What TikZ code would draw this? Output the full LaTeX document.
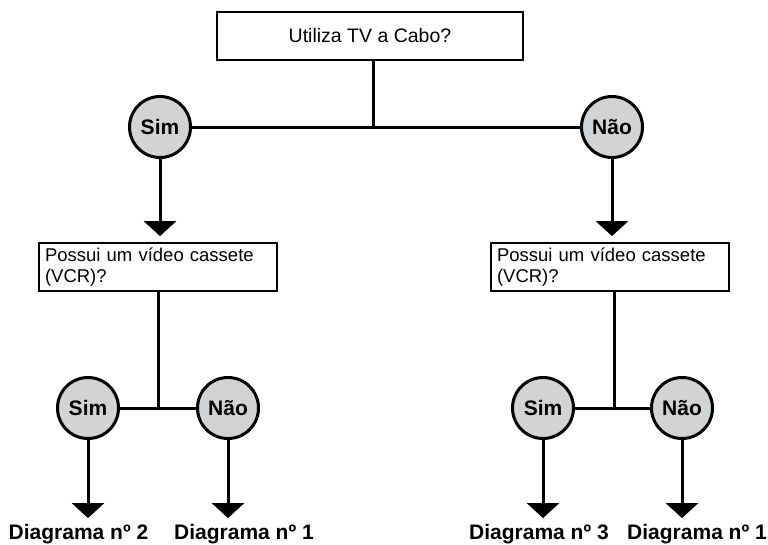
\documentclass[tikz,border=0pt]{standalone}
\usepackage{fontspec}
\setmainfont{Liberation Sans}
\usepackage{xcolor}
\usetikzlibrary{arrows.meta}

\definecolor{circgray}{HTML}{D1D3D4}

\tikzset{
	qbox/.style={draw, line width=1.8pt, inner sep=0pt},
	answer/.style={circle, draw, line width=3pt, fill=circgray, minimum size=61pt, inner sep=0pt, font=\fontsize{21}{22}\selectfont\bfseries},
	link/.style={line width=3pt},
	arr/.style={line width=3pt, -{Triangle[width=32pt, length=15pt]}},
	result/.style={anchor=base, inner sep=0pt, font=\fontsize{21}{22}\selectfont\bfseries}
}

\begin{document}
\begin{tikzpicture}[x=1pt, y=-1pt]
		\useasboundingbox (0,0) rectangle (768,544);
		
		\node[qbox, minimum width=306pt, minimum height=48pt, font=\fontsize{19.5}{22}\selectfont] (cabo) at (370,36) {Utiliza TV a Cabo?};
		
		\node[answer] (sim) at (160,127) {Sim};
		\node[answer] (nao) at (612,127) {Não};
		
		\foreach \n/\x in {vcrA/158, vcrB/610}{
			\node[qbox, minimum height=48pt, text width=226pt, inner xsep=6pt, align=left, font=\fontsize{18.5}{21}\selectfont] (\n) at (\x,267) {Possui um vídeo cassete\\(VCR)?};
		}
		
		\node[answer] (simA) at (88,408) {Sim};
		\node[answer] (naoA) at (228,408) {Não};
		\node[answer] (simB) at (543,408) {Sim};
		\node[answer] (naoB) at (682,408) {Não};
		
		\node[result] (diagA) at (78.5,539.5) {Diagrama nº 2};
		\node[result] (diagB) at (244,539.5) {Diagrama nº 1};
		\node[result] (diagC) at (539,539.5) {Diagrama nº 3};
		\node[result] (diagD) at (697,539.5) {Diagrama nº 1};
		
		% junctions
		\coordinate (j0) at (373,127);
		\coordinate (jA) at (158,408);
		\coordinate (jB) at (614,408);
		
		\draw[link] (cabo.south -| j0) -- (j0);
		\draw[link] (sim) -- (nao);
		\draw[arr, shorten >=6pt] (sim) -- (sim |- vcrA.north);
		\draw[arr, shorten >=6pt] (nao) -- (nao |- vcrB.north);
		
		\draw[link] (vcrA.south -| jA) -- (jA);
		\draw[link] (vcrB.south -| jB) -- (jB);
		\draw[link] (simA) -- (naoA);
		\draw[link] (simB) -- (naoB);
		
		\foreach \a/\b in {simA/diagA, naoA/diagB, simB/diagC, naoB/diagD}{
			\draw[arr, shorten >=6pt] (\a) -- (\a |- \b.north);
		}
\end{tikzpicture}
\end{document}
